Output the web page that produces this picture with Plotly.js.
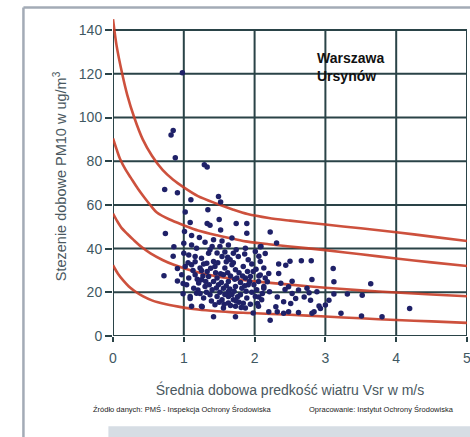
<!DOCTYPE html>
<html>
<head>
<meta charset="utf-8">
<script src="https://cdn.plot.ly/plotly-3.0.1.min.js"></script>
<style>
html,body{margin:0;padding:0;background:#fff;}
#chart{width:470px;height:437px;}
</style>
</head>
<body>
<div id="chart"></div>
<script>
// ---- data ----
const pointsX = [
0.98,0.82,0.85,0.88,1.29,1.33,0.73,0.91,1.10,1.49,1.52,1.34,1.02,
1.50,1.74,1.89,1.09,1.33,1.37,1.52,1.01,0.74,0.86,0.85,0.91,0.91,0.72,
0.99,0.99,1.09,1.26,1.42,1.73,
1.11,1.22,1.30,1.42,1.54,1.68,1.89,2.09,1.00,1.11,1.18,1.40,1.51,1.63,1.70,1.87,2.01,
1.00,1.07,1.16,1.25,1.35,1.42,1.54,1.655,1.77,1.91,2.08,
1.02,1.11,1.23,1.325,1.44,1.58,1.68,1.73,1.84,1.98,2.13,
0.97,1.07,1.16,1.25,1.35,1.47,1.56,1.63,1.75,1.87,1.94,2.055,2.15,
1.04,1.14,1.21,1.30,1.40,1.49,1.56,1.63,1.73,1.82,1.91,2.03,2.13,
1.09,1.18,1.28,1.37,1.47,1.54,1.63,1.70,1.80,1.89,2.01,2.10,
1.11,1.25,1.44,1.56,1.63,1.73,1.87,2.055,1.98,
1.28,1.33,1.38,1.45,1.48,1.52,1.60,1.62,1.66,1.70,1.72,1.78,1.80,1.83,1.86,1.90,1.93,1.96,
1.27,1.31,1.36,1.42,1.46,1.51,1.53,1.58,1.60,1.65,1.68,1.71,1.76,1.78,1.84,1.88,1.94,
1.20,1.23,1.32,1.39,1.50,1.57,1.66,1.74,1.81,1.25,1.19,1.13,1.06,1.16,1.37,1.47,1.58,1.62,1.74,1.86,1.96,2.02,2.06,1.99,
2.22,2.31,2.08,2.15,2.06,2.34,2.44,2.50,2.66,2.80,
2.81,3.11,3.12,3.12,3.31,3.52,3.64,4.19,3.51,3.80,3.22,3.05,2.93,2.81,2.62,2.41,2.22,2.30,2.53,2.79,2.74,2.91,
2.53,2.62,2.11,2.21,2.08,2.18,2.13,2.04,2.32,2.41,2.48,2.37,
2.20,2.34,2.43,2.70,2.77,2.88,3.00,2.84,2.48,2.32,2.20,2.06,2.58,2.51
];
const pointsY = [
120.5,92.0,94.0,81.6,78.4,77.3,67.0,65.6,62.4,63.8,61.3,57.8,56.8,
53.3,51.5,51.5,51.9,51.5,50.7,48.5,47.8,46.9,40.8,36.5,30.9,25.2,27.6,
24.0,19.3,17.2,13.4,8.8,8.8,
46.0,45.1,42.9,44.0,43.5,44.8,47.0,41.0,42.5,41.7,40.2,41.0,41.0,41.7,37.9,40.2,38.7,
37.9,37.1,36.4,35.6,37.9,34.1,36.4,34.9,36.4,34.9,34.1,
31.8,32.6,31.1,33.3,31.8,31.1,32.6,30.3,31.8,29.5,31.1,
28.0,26.5,28.0,25.7,27.2,26.5,28.0,25.0,26.5,26.5,27.2,25.0,26.5,
23.4,21.9,24.2,22.7,21.2,23.4,21.9,20.4,22.7,21.9,23.4,21.2,22.7,
18.1,19.6,17.4,18.9,18.1,16.6,18.1,16.6,18.9,17.4,18.1,16.6,
13.6,13.6,14.3,12.8,15.1,13.6,12.8,13.6,10.5,
33.0,29.5,31.0,29.0,33.5,28.5,34.0,29.0,27.5,33.5,26.0,29.0,24.5,27.5,23.0,29.5,25.0,20.0,
27.5,25.0,23.5,25.0,22.0,20.0,24.5,19.0,23.0,21.5,19.0,20.5,18.0,15.5,15.0,20.5,14.5,
21.0,19.5,20.0,16.0,15.5,14.5,14.0,16.0,13.0,30.0,26.0,30.0,33.5,34.0,39.5,38.0,38.5,36.0,39.5,37.5,33.0,30.5,27.5,23.5,
47.6,42.6,40.8,37.8,36.5,32.9,32.4,34.2,34.4,34.4,
25.9,30.9,24.8,19.2,19.2,18.7,23.9,12.6,9.1,8.8,10.4,16.4,12.6,10.4,10.8,10.4,7.2,13.4,19.5,16.4,21.8,13.7,
25.1,21.0,19.5,20.2,27.9,24.8,21.8,14.9,17.9,15.7,22.5,24.1,
28.6,28.6,21.3,17.9,19.8,20.2,14.2,11.1,11.1,11.1,11.1,17.9,17.2,14.9
];
const curve1X = [0, 0.05, 0.13, 0.20, 0.30, 0.42, 0.55, 0.70, 0.85, 1.00, 1.20, 1.47, 1.70, 1.90, 2.20, 2.50, 3.00, 3.50, 4.00, 4.50, 5.00];
const curve1Y = [145, 133, 120, 110.5, 100, 90, 82.5, 76, 71.5, 68, 64, 60.5, 57.8, 55.8, 54, 52.8, 51, 49.3, 47.5, 45.5, 43.5];
const curve2X = [0, 0.05, 0.10, 0.18, 0.25, 0.35, 0.44, 0.55, 0.62, 0.80, 1.00, 1.20, 1.47, 1.70, 1.90, 2.20, 2.50, 3.00, 3.50, 4.00, 4.50, 5.00];
const curve2Y = [90.4, 85.5, 81, 76, 72.5, 67.5, 63.5, 59, 56.5, 53.3, 50.7, 48.3, 46.1, 44.5, 43.2, 42, 41, 39.3, 37.4, 35.5, 33.7, 32];
const curve3X = [0, 0.06, 0.12, 0.20, 0.29, 0.40, 0.53, 0.70, 0.85, 1.00, 1.24, 1.45, 1.66, 2.00, 2.50, 3.00, 3.50, 4.00, 4.50, 5.00];
const curve3Y = [56, 52.5, 49.5, 46.8, 44, 40.8, 37.8, 34.8, 32.7, 31, 28.8, 27.4, 26.3, 25, 23.5, 22.1, 20.9, 19.9, 19, 18.2];
const curve4X = [0, 0.07, 0.15, 0.22, 0.30, 0.42, 0.55, 0.75, 1.00, 1.20, 1.47, 1.70, 1.94, 2.50, 3.00, 3.50, 4.00, 4.50, 5.00];
const curve4Y = [32.4, 28.5, 25.2, 22.8, 20.7, 18.2, 16.3, 14.5, 13, 12.1, 11.3, 10.8, 10.5, 9.7, 8.9, 8.1, 7.3, 6.7, 6];
const xTicks = [0, 1, 2, 3, 4, 5];
const yTicks = [0, 20, 40, 60, 80, 100, 120, 140];
const xTitle = 'Średnia dobowa predkość wiatru Vsr w m/s';
const yTitle = 'Stezenie dobowe PM10 w ug/m<sup>3</sup>';
const stationLabel = 'Warszawa<br>Ursynów';
const sourceLeft = 'Źródło danych: PMŚ - Inspekcja Ochrony Środowiska';
const sourceRight = 'Opracowanie: Instytut Ochrony Środowiska';

// ---- styles ----
const gridColor = '#2a4347';
const curveColor = 'rgba(200,62,40,0.9)';
const tickFontColor = '#3f5862';
const F = 'Liberation Sans, Arial, sans-serif';

const curveTrace = (xs, ys) => ({
  x: xs, y: ys, type: 'scatter', mode: 'lines', hoverinfo: 'skip',
  line: {color: curveColor, width: 2.6, shape: 'spline', smoothing: 0.8}
});

const traces = [
  curveTrace(curve1X, curve1Y),
  curveTrace(curve2X, curve2Y),
  curveTrace(curve3X, curve3Y),
  curveTrace(curve4X, curve4Y),
  {x: pointsX, y: pointsY, type: 'scatter', mode: 'markers',
   marker: {color: '#1f2168', size: 5.5}}
];

const shapes = [];
// vertical grid lines (0..140)
xTicks.forEach(v => shapes.push({type: 'line', xref: 'x', yref: 'y', x0: v, x1: v, y0: 0, y1: 140,
  line: {color: gridColor, width: 2}, layer: 'below'}));
// horizontal grid lines
yTicks.forEach(v => shapes.push({type: 'line', xref: 'x', yref: 'y', x0: 0, x1: 5.1, y0: v, y1: v,
  line: {color: gridColor, width: 2}, layer: 'below'}));
// outer frame
shapes.push({type: 'line', xref: 'paper', yref: 'paper', x0: -0.253, x1: 1.05, y0: 1.03, y1: 1.03,
  line: {color: '#a3abb6', width: 2.5}});
shapes.push({type: 'line', xref: 'paper', yref: 'paper', x0: -0.253, x1: -0.253, y0: 1.03, y1: -0.35,
  line: {color: '#a3abb6', width: 2.5}});
// grey band at bottom
shapes.push({type: 'rect', xref: 'paper', yref: 'paper', x0: -0.013, x1: 1.05, y0: -0.283, y1: -0.35,
  fillcolor: '#d6dde4', line: {width: 0}});

const pw = 470 - 112.5 - 3.3, ph = 437 - 17 - 101;

const layout = {
  width: 470, height: 437,
  margin: {l: 112.5, r: 3.3, t: 17, b: 101},
  paper_bgcolor: '#ffffff', plot_bgcolor: '#ffffff',
  showlegend: false,
  font: {family: F},
  xaxis: {
    range: [0, 5], tickvals: xTicks, ticktext: xTicks.map(String),
    showgrid: false, zeroline: false, showline: false,
    ticks: 'outside', ticklen: 5, tickwidth: 2, tickcolor: gridColor,
    ticklabeloverflow: 'allow', ticklabelstandoff: 4,
    tickfont: {size: 14, color: tickFontColor, family: F},
    title: {text: xTitle, font: {size: 14, color: '#4a5860', family: F}, standoff: 20},
    automargin: false, fixedrange: true
  },
  yaxis: {
    range: [0, 146], tickvals: yTicks, ticktext: yTicks.map(String),
    showgrid: false, zeroline: false, showline: false,
    ticks: 'outside', ticklen: 7, tickwidth: 2, tickcolor: gridColor,
    tickfont: {size: 14, color: tickFontColor, family: F},
    title: {text: yTitle, font: {size: 14.5, color: '#4a5860', family: F}, standoff: 8},
    automargin: false, fixedrange: true
  },
  shapes: shapes,
  annotations: [
    {x: 2.86, y: 123.3, xref: 'x', yref: 'y', xanchor: 'left', yanchor: 'middle', align: 'left',
     text: '<b>' + stationLabel + '</b>', showarrow: false,
     font: {size: 14, color: '#111111', family: F}},
    {x: (90 - 112.5) / pw, y: (437 - 101 - 409) / ph, xref: 'paper', yref: 'paper',
     xanchor: 'left', yanchor: 'middle', text: sourceLeft, showarrow: false,
     font: {size: 7.5, color: '#222222', family: F}},
    {x: (307 - 112.5) / pw, y: (437 - 101 - 409) / ph, xref: 'paper', yref: 'paper',
     xanchor: 'left', yanchor: 'middle', text: sourceRight, showarrow: false,
     font: {size: 7.5, color: '#222222', family: F}}
  ]
};

Plotly.newPlot('chart', traces, layout, {displayModeBar: false, staticPlot: true});
</script>
</body>
</html>
